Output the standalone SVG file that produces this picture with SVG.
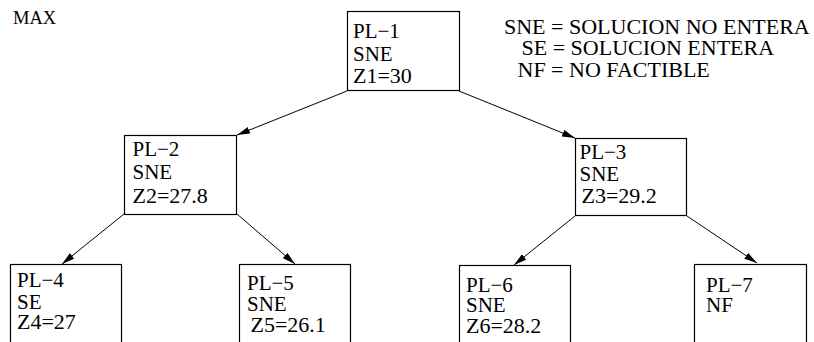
<svg xmlns="http://www.w3.org/2000/svg" width="814" height="342" viewBox="0 0 814 342">
<style>
text{font-family:"Liberation Serif",Tinos,"Times New Roman",Times,"DejaVu Serif",serif;fill:#000}
.n{font-size:21px}
.z{font-size:22px}
.lg{font-size:22px}
.box{fill:#fff;stroke:#000;stroke-width:1.2}
.c{stroke:#000;stroke-width:1;fill:none;marker-end:url(#ah)}
</style>
<defs>
<marker id="ah" markerUnits="userSpaceOnUse" markerWidth="14" markerHeight="8" refX="13" refY="3.5" orient="auto">
<path d="M0,0 L13,3.5 L0,7 Z" fill="#000"/>
</marker>
</defs>
<g id="title"><text x="13" y="23.5" style="font-size:18.5px">MAX</text></g>
<g id="legend">
<text x="504" y="33.5" class="lg">SNE = SOLUCION NO ENTERA</text>
<text x="521.5" y="55" class="lg">SE = SOLUCION ENTERA</text>
<text x="517.5" y="77" class="lg">NF = NO FACTIBLE</text>
</g>
<g id="connectors">
<line class="c" x1="347" y1="91" x2="237" y2="135"/>
<line class="c" x1="459" y1="91" x2="575" y2="138"/>
<line class="c" x1="124" y1="214" x2="62" y2="264"/>
<line class="c" x1="237" y1="214" x2="295" y2="264"/>
<line class="c" x1="575" y1="216" x2="514" y2="265"/>
<line class="c" x1="687" y1="216" x2="757" y2="263"/>
</g>
<g id="PL-1">
<rect class="box" x="347.5" y="11.5" width="112" height="79"/>
<text class="n" x="353" y="38">PL−1</text>
<text class="n" x="353" y="61">SNE</text>
<text class="z" x="353" y="82.5">Z1=30</text>
</g>
<g id="PL-2">
<rect class="box" x="124.5" y="135.5" width="112" height="79"/>
<text class="n" x="132.5" y="156">PL−2</text>
<text class="n" x="132.5" y="179">SNE</text>
<text class="z" x="132.5" y="203">Z2=27.8</text>
</g>
<g id="PL-3">
<rect class="box" x="575.5" y="138.5" width="111" height="77"/>
<text class="n" x="579.5" y="158.5">PL−3</text>
<text class="n" x="579.5" y="180.5">SNE</text>
<text class="z" x="581.5" y="203">Z3=29.2</text>
</g>
<g id="PL-4">
<rect class="box" x="10.5" y="264.5" width="111" height="90"/>
<text class="n" x="17" y="286.5">PL−4</text>
<text class="n" x="17" y="308.5">SE</text>
<text class="z" x="17" y="329">Z4=27</text>
</g>
<g id="PL-5">
<rect class="box" x="239.5" y="264.5" width="111" height="90"/>
<text class="n" x="247" y="290">PL−5</text>
<text class="n" x="247" y="310.5">SNE</text>
<text class="z" x="250.5" y="331.5">Z5=26.1</text>
</g>
<g id="PL-6">
<rect class="box" x="459.5" y="265.5" width="111" height="90"/>
<text class="n" x="466" y="291.5">PL−6</text>
<text class="n" x="466" y="311.5">SNE</text>
<text class="z" x="466" y="333">Z6=28.2</text>
</g>
<g id="PL-7">
<rect class="box" x="694.5" y="264.5" width="112" height="90"/>
<text class="n" x="706" y="291.5">PL−7</text>
<text class="n" x="706" y="311.5">NF</text>
</g>
</svg>
